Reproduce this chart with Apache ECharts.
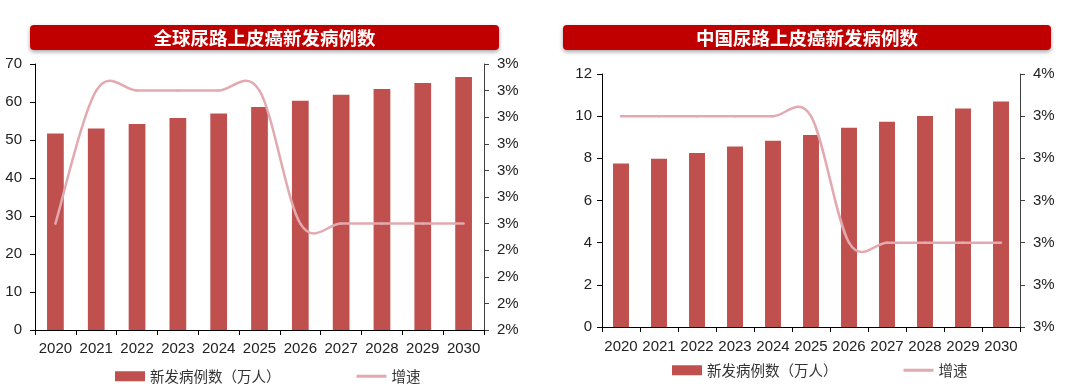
<!DOCTYPE html>
<html>
<head>
<meta charset="utf-8">
<script src="https://cdn.jsdelivr.net/npm/echarts@6/dist/echarts.min.js"></script>
<style>
html,body{margin:0;padding:0;background:#fff;}
#c{width:1080px;height:390px;}
</style>
</head>
<body>
<div id="c"></div>
<script>
const years = ['2020','2021','2022','2023','2024','2025','2026','2027','2028','2029','2030'];
const globalCases = [51.7, 53.0, 54.2, 55.8, 57.0, 58.7, 60.3, 61.9, 63.4, 65.0, 66.6];
const globalGrowth = [2.5, 3.0, 3.0, 3.0, 3.0, 3.0, 2.5, 2.5, 2.5, 2.5, 2.5];
const chinaCases = [7.75, 7.98, 8.25, 8.56, 8.83, 9.11, 9.45, 9.73, 10.01, 10.36, 10.69];
const chinaGrowth = [3.4, 3.4, 3.4, 3.4, 3.4, 3.4, 3.1, 3.1, 3.1, 3.1, 3.1];
const titleGlobal = '全球尿路上皮癌新发病例数';
const titleChina = '中国尿路上皮癌新发病例数';
const barName = '新发病例数（万人）';
const lineName = '增速';

const FONT = 'Liberation Sans, Arial, sans-serif';
const CJK = 'Noto Sans CJK SC, sans-serif';
const BAR = '#C0504D';
const LINE = '#E2AAB0';

const chart = echarts.init(document.getElementById('c'), null, {renderer: 'canvas'});

function xAxis(gridIndex, margin) {
  return {
    type: 'category', gridIndex, data: years, boundaryGap: true,
    axisLine: {lineStyle: {color: '#000', width: 1}},
    axisTick: {show: true, length: 5, inside: false, lineStyle: {color: '#000'}},
    axisLabel: {color: '#222', fontSize: 15, fontFamily: FONT, margin: margin, interval: 0}
  };
}
function leftAxis(gridIndex, min, max, interval, margin) {
  return {
    type: 'value', gridIndex, min, max, interval, position: 'left',
    axisLine: {show: true, lineStyle: {color: '#000'}},
    axisTick: {show: true, length: 5, lineStyle: {color: '#000'}},
    splitLine: {show: false},
    axisLabel: {color: '#222', fontSize: 15, fontFamily: FONT, margin: margin}
  };
}
function rightAxis(gridIndex, min, max) {
  return {
    type: 'value', gridIndex, min: min * 10, max: max * 10, interval: 1, position: 'right',
    axisLine: {show: true, lineStyle: {color: '#404040'}},
    axisTick: {show: true, length: 5, lineStyle: {color: '#404040'}},
    splitLine: {show: false},
    axisLabel: {color: '#222', fontSize: 15, fontFamily: FONT, margin: 13,
      formatter: v => Math.round(Math.round(v) / 10) + '%'}
  };
}

const banner = (x, w, text) => ([
  {type: 'rect', shape: {x: x, y: 25, width: w, height: 25, r: 4},
   style: {fill: '#C00000', shadowBlur: 4, shadowColor: 'rgba(0,0,0,0.35)', shadowOffsetY: 2}},
  {type: 'text', x: x + w / 2, y: 38,
   style: {text: text, fill: '#fff', font: 'bold 18.5px ' + CJK, textAlign: 'center', textVerticalAlign: 'middle'}}
]);

// Excel-style smoothed line (Catmull-Rom through data points), positioned by the axes
function smoothLine(params, api) {
  if (params.dataIndexInside !== 0) return null;
  const n = params.dataInsideLength;
  const p = [];
  for (let i = 0; i < n; i++) p.push(api.coord([api.value(0, i), api.value(1, i)]));
  const children = [];
  for (let i = 0; i < n - 1; i++) {
    const a = p[i], b = p[i + 1];
    const prev = p[i - 1] || a, next = p[i + 2] || b;
    children.push({
      type: 'bezierCurve',
      shape: {
        x1: a[0], y1: a[1], x2: b[0], y2: b[1],
        cpx1: a[0] + (b[0] - prev[0]) / 6, cpy1: a[1] + (b[1] - prev[1]) / 6,
        cpx2: b[0] - (next[0] - a[0]) / 6, cpy2: b[1] - (next[1] - a[1]) / 6
      },
      style: {stroke: LINE, lineWidth: 2.5, fill: 'none', lineCap: 'round'}
    });
  }
  return {type: 'group', children};
}

const lineIcon = 'path://M0,0 L0.05,0 L0.05,0.05 Z M0,3.6 L30,3.6 L30,6.4 L0,6.4 Z M29.95,9.95 L30,9.95 L30,10 Z';
const legendCommon = {
  itemWidth: 30, itemHeight: 10, padding: 0,
  textStyle: {color: '#333', fontSize: 14.5, fontFamily: CJK},
  data: [{name: barName, icon: 'rect'}, {name: lineName, icon: lineIcon}]
};

chart.setOption({
  animation: false,
  backgroundColor: '#fff',
  graphic: [...banner(30, 469, titleGlobal), ...banner(563, 488, titleChina)],
  grid: [
    {left: 35, right: 596, top: 64, bottom: 60},
    {left: 602, right: 60, top: 74, bottom: 63}
  ],
  legend: [
    Object.assign({left: 115, top: 369, itemGap: 76}, legendCommon),
    Object.assign({left: 672, top: 363, itemGap: 66}, legendCommon)
  ],
  xAxis: [xAxis(0, 11), xAxis(1, 12)],
  yAxis: [
    leftAxis(0, 0, 70, 10, 13),
    rightAxis(0, 2.1, 3.1),
    leftAxis(1, 0, 12, 2, 10),
    rightAxis(1, 2.9, 3.5)
  ],
  series: [
    {name: barName, type: 'bar', xAxisIndex: 0, yAxisIndex: 0, data: globalCases,
     barWidth: '41%', itemStyle: {color: BAR}},
    {name: lineName, type: 'custom', xAxisIndex: 0, yAxisIndex: 1,
     data: years.map((y, i) => [y, globalGrowth[i] * 10]), encode: {x: 0, y: 1},
     renderItem: smoothLine, itemStyle: {color: LINE}, z: 3},
    {name: barName, type: 'bar', xAxisIndex: 1, yAxisIndex: 2, data: chinaCases,
     barWidth: '42%', itemStyle: {color: BAR}},
    {name: lineName, type: 'custom', xAxisIndex: 1, yAxisIndex: 3,
     data: years.map((y, i) => [y, chinaGrowth[i] * 10]), encode: {x: 0, y: 1},
     renderItem: smoothLine, itemStyle: {color: LINE}, z: 3}
  ]
});
</script>
</body>
</html>
